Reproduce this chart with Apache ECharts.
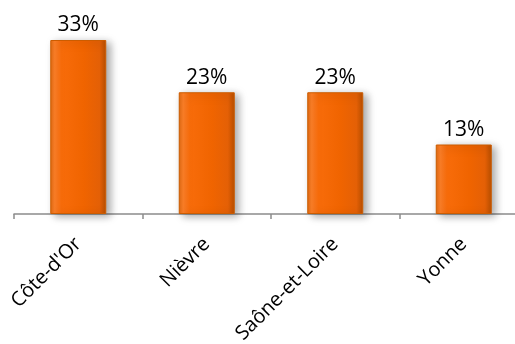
<!DOCTYPE html>
<html>
<head>
<meta charset="utf-8">
<script src="https://cdn.jsdelivr.net/npm/echarts@6/dist/echarts.min.js"></script>
<style>html,body{margin:0;padding:0;background:#fff}#c{width:515px;height:344px}</style>
</head>
<body>
<div id="c"></div>
<script>
var categories = ["Côte-d'Or", "Nièvre", "Saône-et-Loire", "Yonne"];
var values = [33.3, 23.3, 23.3, 13.3];

var chart = echarts.init(document.getElementById('c'), null, {renderer: 'canvas'});
var barColor = new echarts.graphic.LinearGradient(0, 0, 1, 0, [
  {offset: 0, color: '#E06A10'},
  {offset: 0.08, color: '#FF8028'},
  {offset: 0.2, color: '#F86C0A'},
  {offset: 0.6, color: '#F06400'},
  {offset: 0.88, color: '#E46006'},
  {offset: 1, color: '#B84E00'}
]);
chart.setOption({
  animation: false,
  grid: {left: 14, top: 5, width: 514, height: 209, containLabel: false, outerBoundsMode: 'none'},
  xAxis: {
    type: 'category',
    data: categories,
    boundaryGap: true,
    axisLine: {lineStyle: {color: '#8c8c8c', width: 1.5}},
    axisTick: {show: true, length: 5, lineStyle: {color: '#8c8c8c', width: 1.5}},
    axisLabel: {
      rotate: 45,
      interval: 0,
      margin: 27,
      color: '#000',
      fontFamily: 'Open Sans',
      fontSize: 20
    }
  },
  yAxis: {
    type: 'value', min: 0, max: 40,
    show: false,
    splitLine: {show: false}
  },
  series: [{
    type: 'bar',
    data: values,
    barWidth: 56,
    itemStyle: {
      color: barColor,
      borderColor: '#CC5C00',
      borderWidth: 1,
      shadowColor: 'rgba(0,0,0,0.35)',
      shadowBlur: 8,
      shadowOffsetX: 4,
      shadowOffsetY: 2
    },
    label: {
      show: true,
      position: 'top',
      distance: 4,
      color: '#000',
      fontFamily: 'Open Sans',
      fontSize: 21,
      formatter: function (p) { return Math.round(p.value) + '%'; }
    }
  }]
});
</script>
</body>
</html>
